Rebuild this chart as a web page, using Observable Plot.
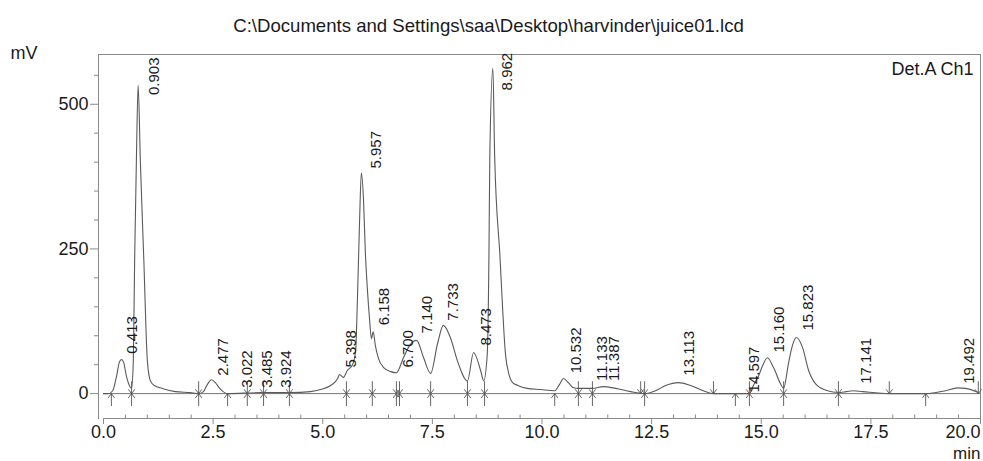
<!DOCTYPE html>
<html><head><meta charset="utf-8">
<script src="https://cdn.jsdelivr.net/npm/d3@7"></script>
<script src="https://cdn.jsdelivr.net/npm/@observablehq/plot@0.6"></script>
<style>body{margin:0;background:#fff}svg{display:block}</style>
</head><body><div id="chart"></div>
<script>
const title = "C:\\Documents and Settings\\saa\\Desktop\\harvinder\\juice01.lcd";
const channel = "Det.A Ch1";
const yUnit = "mV";
const xUnit = "min";

// chromatogram trace (time in min, signal in mV)
const traceTime = [0.00,0.11,0.21,0.30,0.36,0.41,0.46,0.52,0.59,0.64,0.68,0.71,0.75,0.79,0.84,0.92,1.00,1.07,1.16,1.34,1.64,1.98,2.17,2.28,2.37,2.46,2.55,2.65,2.76,2.83,3.58,4.26,4.72,4.95,5.18,5.34,5.38,5.47,5.56,5.68,5.75,5.79,5.84,5.88,5.93,5.97,6.02,6.07,6.11,6.15,6.20,6.27,6.39,6.55,6.68,6.84,6.98,7.14,7.30,7.46,7.62,7.75,7.91,8.07,8.30,8.44,8.60,8.67,8.75,8.79,8.81,8.88,8.92,9.04,9.17,9.24,9.32,9.45,9.66,9.97,10.29,10.40,10.49,10.60,10.72,10.83,11.15,11.40,11.68,12.02,12.34,12.59,12.82,13.11,13.39,13.68,13.91,14.73,14.82,14.94,15.03,15.14,15.28,15.44,15.51,15.62,15.71,15.80,15.94,16.08,16.24,16.51,16.76,16.94,17.10,17.31,17.92,18.75,19.20,19.48,19.66,19.95];
const traceMV = [0,0,5,31,54,59,54,31,14,9,57,230,403,533,403,230,57,22,14,9,3.5,1.7,0,3.5,16,24,19,9,1.7,0,1.7,1.7,3.5,7,14,26,33,28,40,50,74,161,299,381,334,247,178,126,95,107,83,61,45,38,36,62,83,92,62,35,87,118,97,57,22,71,40,22,66,239,412,562,412,239,66,35,20,14,9,7,5,16,26,19,10,9,9,12,9,3.5,0,5,14,19,14,5,0,0,14,31,48,62,45,17,9,52,83,97,80,40,17,5,2,3.5,5,3.5,0,0,5,10,9,2];

// peak retention times and label heights (mV)
const peakTimes = [0.413,0.903,2.477,3.022,3.485,3.924,5.398,5.957,6.158,6.700,7.140,7.733,8.473,8.962,10.532,11.133,11.387,13.113,14.597,15.160,15.823,17.141,19.492];
const peakLabelMV = [69,516,31,10,10,10,45,389,118,45,104,126,83,524,35,22,22,31,2,71,109,17,17];

// integration markers
const markerTime = [0.18,0.64,2.17,2.83,3.28,3.65,4.24,5.54,6.13,6.68,6.75,7.46,8.30,8.69,10.29,10.83,11.15,12.25,12.34,13.91,14.41,14.73,15.51,16.76,17.92,18.75,19.95];
const markerKind = ["up","both","both","up","both","both","both","both","both","both","both","both","both","both","up","both","both","down","both","down","up","both","both","both","down","up","down"];

// axes
const xMajorTicks = [0, 2.5, 5, 7.5, 10, 12.5, 15, 17.5, 20];
const xMinorTicks = [0.5,1,1.5,2,3,3.5,4,4.5,5.5,6,6.5,7,8,8.5,9,9.5,10.5,11,11.5,12,13,13.5,14,14.5,15.5,16,16.5,17,18,18.5,19,19.5];
const yMajorTicks = [0, 250, 500];
const yMinorTicks = [50,100,150,200,300,350,400,450,550];
const xDomain = [-0.114, 20.0];
const yDomain = [-43, 586];

const trace = traceTime.map((t, i) => ({t, mv: traceMV[i]}));
const peaks = peakTimes.map((t, i) => ({t, mv: peakLabelMV[i], label: t.toFixed(3)}));
const arrows = [];
markerTime.forEach((t, i) => {
  const k = markerKind[i];
  if (k === "up" || k === "both") arrows.push({t, dir: 0});
  if (k === "down" || k === "both") arrows.push({t, dir: 180});
});

// small open arrowhead shape for integration markers
const markerArrow = {
  draw(context, l) {
    context.moveTo(0, 0);
    context.lineTo(0, -l);
    context.moveTo(-3, -l + 4);
    context.lineTo(0, -l);
    context.lineTo(3, -l + 4);
  }
};

const FONT = "'Liberation Sans', Arial, sans-serif";
const ink = "#1a1a1a";
const lineColor = "#5a5a5a";
const frameColor = "#8a8a8a";
const fmt1 = d => d.toFixed(1);

const chart = Plot.plot({
  width: 983,
  height: 461,
  marginTop: 54,
  marginBottom: 43,
  marginLeft: 98,
  marginRight: 3,
  style: {fontFamily: FONT, color: ink, background: "#fff"},
  x: {domain: xDomain},
  y: {domain: yDomain},
  marks: [
    Plot.frame({anchor: "top", stroke: frameColor}),
    Plot.frame({anchor: "left", stroke: frameColor}),
    Plot.frame({anchor: "right", stroke: frameColor}),
    Plot.ruleY([yDomain[0]], {x1: xMajorTicks[0], x2: xMajorTicks[xMajorTicks.length - 1], stroke: frameColor}),
    Plot.ruleX(xMinorTicks, {x: d => d, y1: yDomain[0], y2: yDomain[0] + 6, stroke: frameColor}),
    Plot.axisX(xMajorTicks.slice(0, -1), {tickSize: 6, tickPadding: 1, fontSize: 18, tickFormat: fmt1, label: null, stroke: frameColor, fill: ink}),
    Plot.axisX(xMajorTicks.slice(-1), {tickSize: 6, tickPadding: 1, fontSize: 18, tickFormat: fmt1, label: null, textAnchor: "end", stroke: frameColor, fill: ink}),
    Plot.axisY(yMajorTicks, {tickSize: 8, tickPadding: 2, fontSize: 18, label: null, stroke: frameColor, fill: ink}),
    Plot.axisY(yMinorTicks, {tickSize: 4, tickFormat: () => "", label: null, stroke: frameColor}),
    Plot.ruleY([0], {x1: xMajorTicks[0], x2: xMajorTicks[xMajorTicks.length - 1], stroke: "#777", strokeWidth: 1}),
    Plot.vector(arrows, {x: "t", y: () => 0, rotate: "dir", length: 12, anchor: "end", shape: markerArrow, stroke: "#555", strokeWidth: 0.9}),
    Plot.line(trace, {x: "t", y: "mv", curve: "monotone-x", stroke: lineColor, strokeWidth: 1.1}),
    Plot.text(peaks, {x: "t", y: "mv", text: "label", rotate: -90, textAnchor: "start", dx: 11, fontSize: 15, fill: ink}),
    Plot.text([title], {frameAnchor: "top", dx: -51, dy: -36, fontSize: 18.6, fill: ink}),
    Plot.text([yUnit], {frameAnchor: "top-left", dx: -88, dy: -8, textAnchor: "start", fontSize: 18, fill: ink}),
    Plot.text([channel], {frameAnchor: "top-right", dx: -7, dy: 8, textAnchor: "end", fontSize: 18, fill: ink}),
    Plot.text([xUnit], {frameAnchor: "bottom-right", dx: 0, dy: 40, textAnchor: "end", fontSize: 17, fill: ink})
  ]
});
document.getElementById("chart").append(chart);
</script>
</body></html>
